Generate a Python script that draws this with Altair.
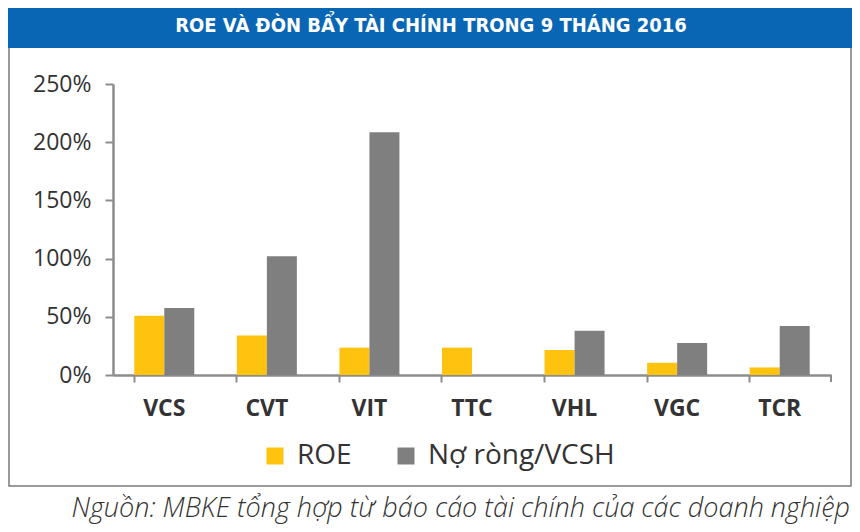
import altair as alt
import pandas as pd

categories = ["VCS", "CVT", "VIT", "TTC", "VHL", "VGC", "TCR"]
series = ["ROE", "Nợ ròng/VCSH"]
roe = [0.51, 0.34, 0.235, 0.235, 0.215, 0.105, 0.065]
no_rong = [0.575, 1.02, 2.085, 0.0, 0.38, 0.275, 0.42]
y_ticks = [0, 0.5, 1.0, 1.5, 2.0, 2.5]
title_text = "ROE VÀ ĐÒN BẨY TÀI CHÍNH TRONG 9 THÁNG 2016"
source_text = "Nguồn: MBKE tổng hợp từ báo cáo tài chính của các doanh nghiệp"

rows = []
for c, a, b in zip(categories, roe, no_rong):
    rows.append({"cat": c, "series": series[0], "value": a})
    rows.append({"cat": c, "series": series[1], "value": b})
df = pd.DataFrame(rows)

W, H = 718, 291
PL, PT = 105, 76
PR = 860 - 16 - PL - W
PB = 532 - 16 - PT - H

one = pd.DataFrame({"t": [0]})

frame = alt.Chart(one).mark_rect(fill=None, stroke="#7a7a7a", strokeWidth=1.5).encode(
    x=alt.value(-104), x2=alt.value(738), y=alt.value(-40), y2=alt.value(402)
)
title_bar = alt.Chart(one).mark_rect(fill="#0866B5", stroke=None).encode(
    x=alt.value(-105), x2=alt.value(740), y=alt.value(-76), y2=alt.value(-36)
)
title = alt.Chart(pd.DataFrame({"t": [title_text]})).mark_text(
    font="Liberation Sans Narrow, DejaVu Sans Condensed, Roboto Condensed, Roboto",
    fontSize=20, fontWeight="bold", color="white", align="center", baseline="middle"
).encode(text="t:N", x=alt.value(318), y=alt.value(-58))
source = alt.Chart(pd.DataFrame({"t": [source_text]})).mark_text(
    font="Open Sans", fontSize=27, fontWeight=300, fontStyle="italic", color="#333333",
    align="right", baseline="alphabetic"
).encode(text="t:N", x=alt.value(737), y=alt.value(433))
end_tick = alt.Chart(one).mark_rule(color="#8c8c8c", strokeWidth=2).encode(
    x=alt.value(718), y=alt.value(291), y2=alt.value(298)
)

bars = alt.Chart(df).mark_bar().encode(
    x=alt.X("cat:N", sort=categories, title=None,
            scale=alt.Scale(paddingInner=0.415, paddingOuter=0.2075),
            axis=alt.Axis(labelAngle=0, bandPosition=0, labelFontSize=23, labelFontWeight="bold",
                          labelFont="Open Sans", labelColor="#333333", labelPadding=15,
                          tickSize=7, tickColor="#8c8c8c", tickWidth=2,
                          domainColor="#8c8c8c", domainWidth=2.5, labelBound=False)),
    xOffset=alt.XOffset("series:N", sort=series, scale=alt.Scale(domain=series)),
    y=alt.Y("value:Q", title=None,
            scale=alt.Scale(domain=[0, 2.5], nice=False),
            axis=alt.Axis(values=y_ticks, format=".0%", grid=False, labelFontSize=23,
                          labelFont="Open Sans", labelColor="#333333", labelPadding=14,
                          tickSize=8, tickColor="#8c8c8c", tickWidth=2,
                          domainColor="#8c8c8c", domainWidth=2.5)),
    color=alt.Color("series:N", sort=series,
                    scale=alt.Scale(domain=series, range=["#FFC20E", "#7F7F7F"]),
                    legend=alt.Legend(orient="none", legendX=148, legendY=358, direction="horizontal",
                                      title=None, symbolType="square", symbolSize=289,
                                      symbolStrokeWidth=0, labelFont="Open Sans", labelFontSize=28,
                                      labelColor="#333333", labelOffset=8, columnPadding=40,
                                      labelLimit=0)),
)

chart = alt.layer(frame, title_bar, title, source, bars, end_tick).properties(
    width=W, height=H,
    padding={"left": PL, "top": PT, "right": PR, "bottom": PB},
    autosize=alt.AutoSizeParams(type="none"),
    background="white",
).configure_view(stroke=None)

chart.save("out.html", embed_options={"renderer": "svg", "actions": False})
